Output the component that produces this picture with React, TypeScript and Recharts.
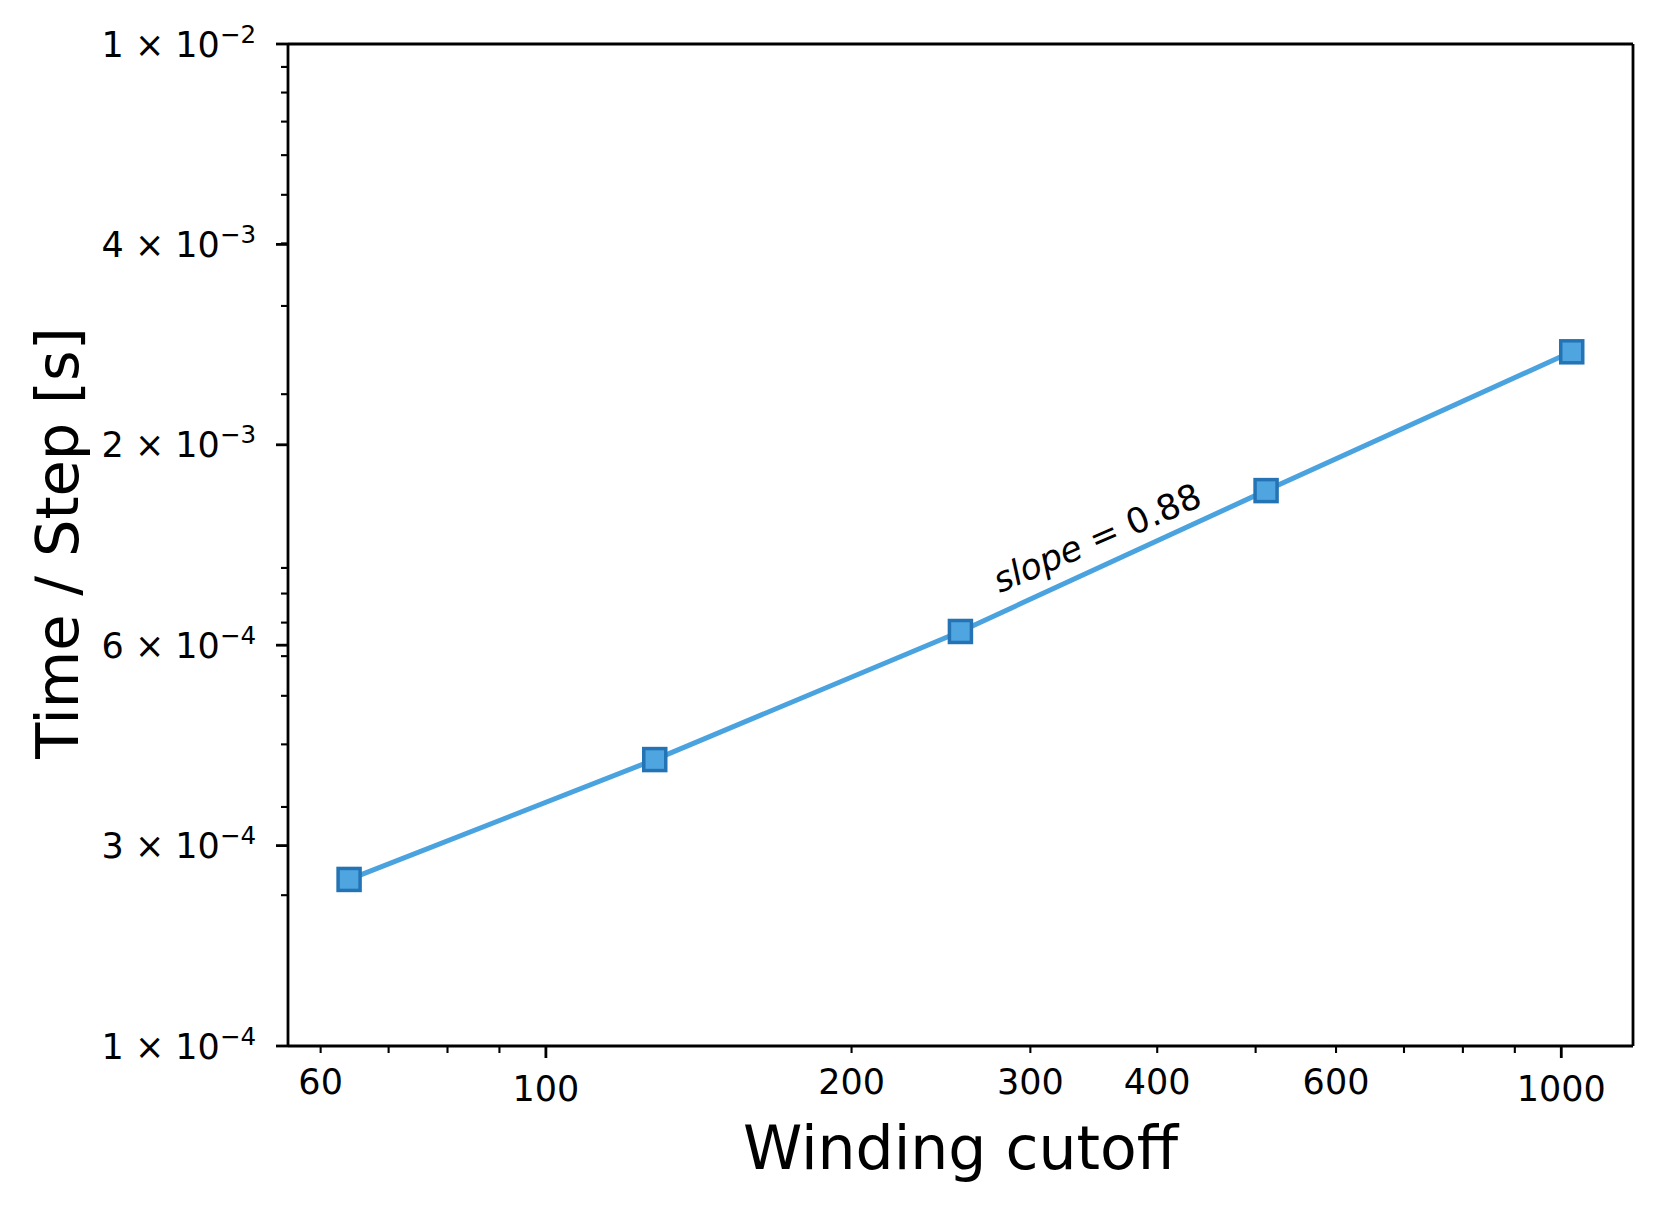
import { LineChart, Line, XAxis, YAxis, ReferenceDot, ReferenceLine, Label } from 'recharts'

// measured time per MC step vs winding cutoff (log-log)
const windingCutoff = [64, 128, 256, 512, 1024]
const timePerStep = [2.15e-4, 3.73e-4, 6.72e-4, 1.284e-3, 2.43e-3]

const xTicks = [60, 70, 80, 90, 100, 200, 300, 400, 500, 600, 700, 800, 900, 1000]
const xMajorTicks = [100, 1000]
const xTickLabels: Record<number, string> = {
  60: '60', 100: '100', 200: '200', 300: '300', 400: '400', 600: '600', 1000: '1000',
}

const yMajorTicks = [1e-4, 2.512e-4, 6.31e-4, 1.585e-3, 3.981e-3, 1e-2]
const yMajorMantissa = ['1', '3', '6', '2', '4', '1']
const yMajorExponent = ['−4', '−4', '−4', '−3', '−3', '−2']
const yMinorTicks = [
  2e-4, 3e-4, 4e-4, 5e-4, 6e-4, 7e-4, 8e-4, 9e-4,
  2e-3, 3e-3, 4e-3, 5e-3, 6e-3, 7e-3, 8e-3, 9e-3,
]

const xDomain = [55.72, 1176.6]
const yDomain = [1e-4, 1e-2]

const slopeNote = { x: 349, y: 1.032e-3, value: '0.88', angle: -23.4 }

const data = windingCutoff.map((w, i) => ({ w, t: timePerStep[i] }))
const yTicks = [...yMinorTicks, ...yMajorTicks].sort((a, b) => a - b)

const FONT = '"DejaVu Sans", sans-serif'

const XTick = ({ x, y, payload }: any) => {
  const v = payload.value
  const major = xMajorTicks.includes(v)
  const label = xTickLabels[v]
  return (
    <g>
      <line x1={x} x2={x} y1={y} y2={y + (major ? 12 : 7)} stroke="#000" strokeWidth={major ? 2.8 : 2.1} />
      {label && (
        <text x={x} y={y + (major ? 55 : 48)} textAnchor="middle" fontSize={35} fill="#000" fontFamily={FONT}>
          {label}
        </text>
      )}
    </g>
  )
}

const YTick = ({ x, y, payload }: any) => {
  const v = payload.value
  const idx = yMajorTicks.findIndex((m) => Math.abs(m - v) / m < 1e-6)
  const major = idx >= 0
  return (
    <g>
      <line x1={x - (major ? 12 : 7)} x2={x} y1={y} y2={y} stroke="#000" strokeWidth={major ? 2.8 : 2.1} />
      {major && (
        <text x={x - 32} y={y + 12.5} textAnchor="end" fontSize={35} fill="#000" fontFamily={FONT}>
          {`${yMajorMantissa[idx]} × 10`}
          <tspan dy={-14} fontSize={24.5}>{yMajorExponent[idx]}</tspan>
        </text>
      )}
    </g>
  )
}

const renderSquare = (props: any) => {
  const { cx, cy, index } = props
  return (
    <rect key={`sq-${index}`} x={cx - 11} y={cy - 11} width={22} height={22}
      fill="#4ea5e0" stroke="#2474b5" strokeWidth={3.5} />
  )
}

const SlopeText = (props: any) => {
  const { cx, cy } = props
  return (
    <text x={cx} y={cy} textAnchor="middle" dominantBaseline="central" fontSize={35} fill="#000"
      fontFamily={FONT} transform={`rotate(${slopeNote.angle} ${cx} ${cy})`}>
      <tspan fontStyle="italic">slope</tspan>
      <tspan>{` = ${slopeNote.value}`}</tspan>
    </text>
  )
}

const XLabel = ({ viewBox }: any) => (
  <text x={viewBox.x + viewBox.width / 2} y={viewBox.y + 123} textAnchor="middle" fontSize={60}
    fill="#000" fontFamily={FONT}>
    Winding cutoff
  </text>
)

const YLabel = ({ viewBox }: any) => {
  const cx = 78
  const cy = viewBox.y + viewBox.height / 2 - 2
  return (
    <text x={cx} y={cy} textAnchor="middle" fontSize={59} fill="#000" fontFamily={FONT}
      transform={`rotate(-90 ${cx} ${cy})`}>
      Time / Step [s]
    </text>
  )
}

const axisStyle = { stroke: '#000', strokeWidth: 2.8 }

export default function App() {
  return (
    <div style={{ position: 'absolute', left: 0, top: 0, background: '#fff', fontFamily: FONT }}>
      <LineChart width={1661} height={1209} data={data} margin={{ top: 44, right: 28, bottom: 0, left: 0 }}>
        <XAxis
          dataKey="w"
          type="number"
          scale="log"
          domain={xDomain}
          allowDataOverflow
          ticks={xTicks}
          interval={0}
          height={163}
          tickSize={0}
          tickMargin={0}
          tickLine={false}
          axisLine={axisStyle}
          tick={<XTick />}
        >
          <Label content={<XLabel />} />
        </XAxis>
        <YAxis
          type="number"
          scale="log"
          domain={yDomain}
          allowDataOverflow
          ticks={yTicks}
          interval={0}
          width={288}
          tickSize={0}
          tickMargin={0}
          tickLine={false}
          axisLine={axisStyle}
          tick={<YTick />}
        >
          <Label content={<YLabel />} />
        </YAxis>
        {/* top and right spines */}
        <ReferenceLine y={yDomain[1]} stroke="#000" strokeWidth={2.8} ifOverflow="visible" />
        <ReferenceLine x={xDomain[1]} stroke="#000" strokeWidth={2.8} ifOverflow="visible" />
        <Line
          type="linear"
          dataKey="t"
          stroke="#4aa3df"
          strokeWidth={5}
          dot={renderSquare}
          activeDot={false}
          isAnimationActive={false}
        />
        <ReferenceDot x={slopeNote.x} y={slopeNote.y} r={0} shape={<SlopeText />} />
      </LineChart>
    </div>
  )
}
